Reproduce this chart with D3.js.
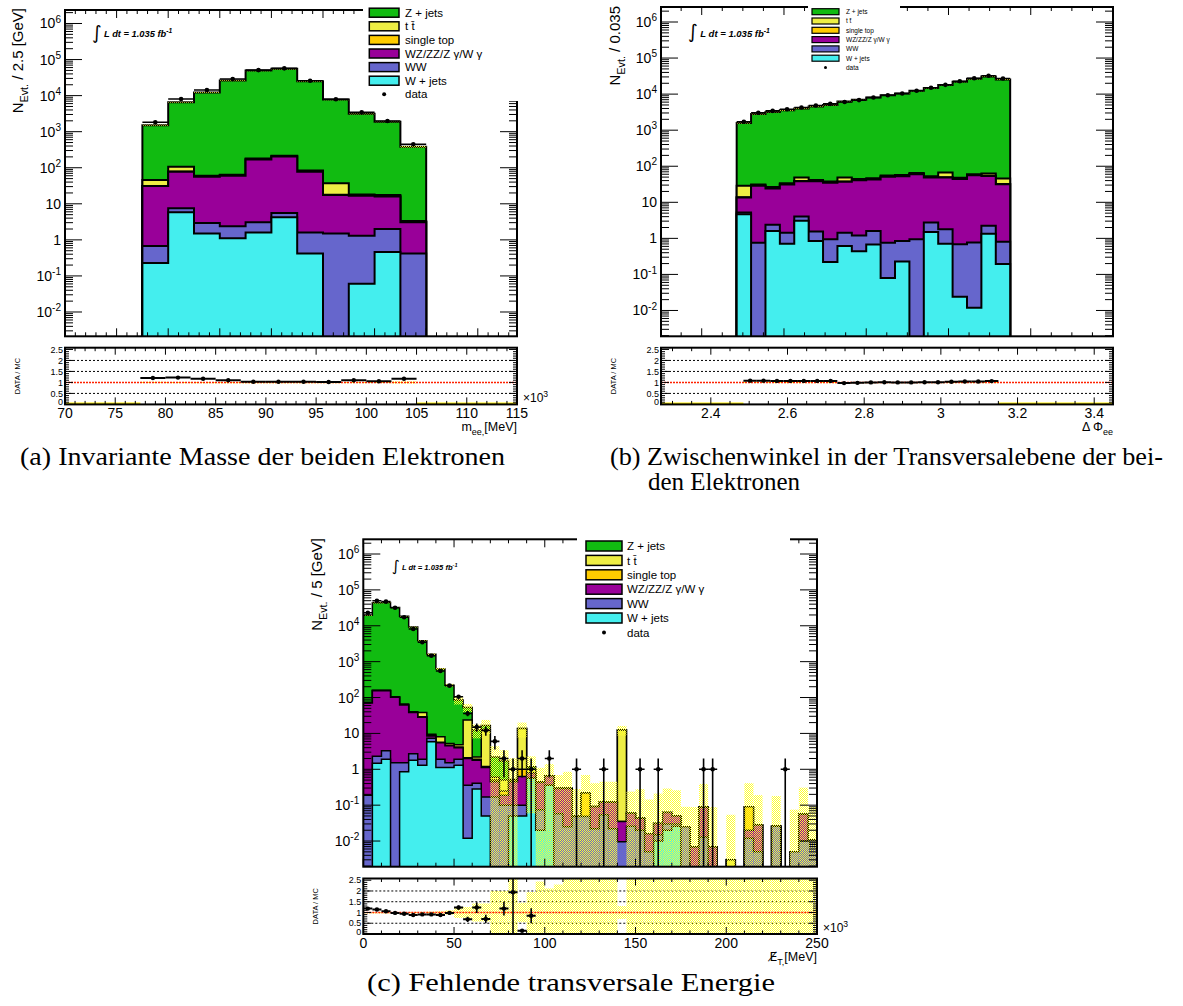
<!DOCTYPE html>
<html><head><meta charset="utf-8">
<script src="https://cdn.jsdelivr.net/npm/d3@7"></script>
<style>body{margin:0;background:#fff}svg{display:block}</style>
</head><body><svg id="c" width="1183" height="1006" font-family="Liberation Sans, Arial, DejaVu Sans, sans-serif"></svg>
<script>
// ================= DATA =================
const procKeys = ["wjets","ww","diboson","singletop","ttbar","zjets"];
const legendOrder = ["zjets","ttbar","singletop","diboson","ww","wjets"];
const legendLabels = {zjets:"Z + jets", ttbar:"t t\u0304", singletop:"single top", diboson:"WZ/ZZ/Z \u03b3/W \u03b3", ww:"WW", wjets:"W + jets"};

// (a) invariant mass m_ee [10^3 MeV], bins of 2.5
const aEdges = [77.5,80,82.5,85,87.5,90,92.5,95,97.5,100,102.5,105];
const aWjets = [0.23,5.84,1.51,1.11,1.61,4.23,0.42,0,0.061,0.46,0];
const aWW = [0.45,1.72,1.42,1.26,1.45,1.37,1.19,1.51,1.23,1.53,0.42];
const aDiboson = [30.3,70.4,53.1,57.6,166.9,198.4,76.4,16.0,15.4,14.0,2.64];
const aSingleTop = [0.3,0.8,0.5,0.6,1.5,1.8,0.7,0.4,0.3,0.3,0.05];
const aTtbar = [14.7,28.2,3.0,3.5,9.0,10.0,5.0,19.1,1.0,1.2,0.2];
const aZjets = [1471,6491,12162,26118,49335,55125,25062,7708,3109,1868,379];
const aData = [1820,8050,14300,28800,51000,57000,25900,7900,3440,1980,447];
const aRatio = [1.20,1.22,1.17,1.10,1.03,1.03,1.03,1.02,1.10,1.05,1.17];
const aMcRelErr = [0.03,0.02,0.015,0.012,0.01,0.01,0.012,0.015,0.02,0.025,0.05];
const aXTicks = [70,75,80,85,90,95,100,105,110,115];

// (b) delta phi_ee, bins of 0.035
const bEdges = [2.485,2.52,2.555,2.59,2.625,2.66,2.695,2.73,2.765,2.8,2.835,2.87,2.905,2.94,2.975,3.01,3.045,3.08,3.115,3.15];
const bWjets = [4.7,0,1.6,0.71,3.06,0.84,0.22,0.61,0.44,0.68,0.079,0.23,0,1.5,0.71,0.024,0.012,1.35,0.195];
const bWW = [0.5,0.76,0.77,0.73,0.99,0.70,0.72,0.83,0.77,0.93,0.68,0.61,0.94,1.25,1.08,0.66,0.75,0.87,0.61];
const bDiboson = [8.4,27.9,21.8,29.8,34.5,37.0,33.8,35.6,39.8,41.3,50.2,52.2,59.1,46.0,46.9,43.9,55.2,51.8,30.9];
const bSingleTop = [0.3,0.5,0.4,0.5,0.6,0.6,0.5,0.6,0.6,0.7,0.8,0.8,0.9,0.7,0.7,0.7,0.8,0.8,0.5];
const bTtbar = [14.8,2.0,1.8,2.2,9.6,2.5,2.3,11.1,2.6,2.7,3.2,3.4,3.8,3.0,17.6,2.8,3.5,8.2,13.5];
const bZjets = [1551,2775,3189,3536,3932,4472,4990,6157,6915,8004,9183,10343,12335,14799,17854,22088,26478,30899,25520];
const bData = [1706,3030,3440,3820,4260,4830,5380,6020,6820,8050,9330,10400,12400,15000,18100,22800,27600,32200,27100];
const bRatio = [1.08,1.08,1.07,1.07,1.07,1.07,1.07,0.97,0.98,1.00,1.01,1.00,1.00,1.01,1.01,1.03,1.04,1.04,1.06];
const bMcRelErr = [0.03,0.025,0.025,0.02,0.02,0.02,0.02,0.02,0.02,0.02,0.02,0.02,0.02,0.02,0.02,0.02,0.02,0.02,0.02];
const bXTicks = [2.4,2.6,2.8,3,3.2,3.4];

// (c) missing E_T [10^3 MeV], bins of 5
const cEdges = [0,5,10,15,20,25,30,35,40,45,50,55,60,65,70,75,80,85,90,95,100,105,110,115,120,125,130,135,140,145,150,155,160,165,170,175,180,185,190,195,200,205,210,215,220,225,230,235,240,245,250];
const cWjets = [0,1.47,1.9,0,0.85,1.8,1.3,5.9,1.13,1.13, 1.3,0.012,0.28,0.05,0,0,0.05,0.05,0.56,0.02, 0.36,0,0,0,0,0,0,0,0,0, 0,0,0.01,0.02,0.026,0,0,0,0,0, 0,0,0,0,0,0,0,0,0,0];
const cWW = [0.19,0.83,1.4,1.53,0.68,0.9,0.6,1.4,0.77,0.4, 0.6,0.348,0.13,0.12,0.17,0.1,0.05,0.05,0,0.054, 0,0.058,0.025,0.048,0.048,0.022,0.054,0.022,0.0095,0.026, 0.02,0.005,0.005,0.01,0.004,0.025,0,0.013,0,0, 0,0,0.012,0.005,0,0.026,0,0.005,0.01,0.0107];
const cDiboson = [69.8,152.7,151.7,99.5,60.5,35.3,26.1,1.2,3.6,2.97, 2.1,1.64,1.39,0.96,0.28,0.09,0.35,0.53,0.24,0.356, 0.29,0.232,0.265,0,0,0.069,0.066,0.098,0.0255,0.034, 0.023,0.011,0.016,0.032,0.02,0,0.0068,0.074,0.0068,0, 0,0,0.008,0.023,0,0,0,0,0.046,0];
const cSingleTop = [0.5,1,1,1,1,0.5,1,0.3,0.2,0.2, 0.2,0.1,0.1,0.07,0.05,0.06,0,0.37,0,0, 0,0,0,0,0.172,0,0,0,0,0, 0,0,0,0,0,0,0,0,0,0, 0,0,0.071,0,0,0,0,0,0,0];
const cTtbar = [1.5,4,4,3,3,1.5,9,0.7,2.4,0.5, 0.6,21.4,0.3,11.7,0.1,0.25,0.05,12.8,0.2,0, 0,0,0,0,0,0,0,0,12.37,0, 0,0,0,0,0,0,0,0,0,0, 0.003,0,0,0,0,0,0,0,0,0];
const cZjets = [19528,43740,44140,32295,18234,9200,3762,1600,617,213, 80,29.5,10.3,3.8,1.6,1.2,0.02,0,0.18,0.02, 0.01,0.01,0.01,0.002,0,0.002,0,0,0,0, 0,0,0,0,0,0,0,0,0,0, 0,0,0,0,0,0,0,0,0,0];
const cData = [23100,50000,47000,31800,17200,8130,3460,1466,550,214, 105,36,15,12,6,2,1,2,1,0, 2,0,0,1,0,0,1,0,0,0, 1,0,1,0,0,0,0,1,1,0, 0,0,0,0,0,0,1,0,0,0];
const cRatio = [1.18,1.14,1.06,0.98,0.94,0.88,0.91,0.91,0.88,0.98, 1.23,0.68,1.23,0.70,null,1.18,1.94,0.15,0.85,null, null,null,null,null,null,null,null,null,null,null, null,null,null,null,null,null,null,null,null,null, null,null,null,null,null,null,null,null,null,null];
const cRatioErr = [0.02,0.01,0.01,0.01,0.01,0.02,0.02,0.03,0.04,0.07, 0.1,0.12,0.25,0.2,0,0.32,2.0,0.05,0.35,0, 0,0,0,0,0,0,0,0,0,0, 0,0,0,0,0,0,0,0,0,0, 0,0,0,0,0,0,0,0,0,0];
const cMcRelErr = [0.01,0.01,0.01,0.01,0.015,0.02,0.03,0.04,0.06,0.1, 0.25,0.25,0.42,0.42,1.0,1.0,2.9,0.45,0.95,1.44, 1.12,1.3,1.83,4.6,2.14,3.4,2.75,2.75,0.3,3.0, 5.5,8,5.8,3.7,4.2,2.6,12,3.5,12,0, 17,0,3.5,5.8,0,5.9,0,14,4.5,7.5];
const cXTicks = [0,50,100,150,200,250];

const ratioTicks = [0,0.5,1,1.5,2,2.5];

// ================= STYLE =================
const procColors = {wjets:"#44eeee", ww:"#6666cc", diboson:"#990099", singletop:"#ffcc00", ttbar:"#eeee44", zjets:"#11bb11"};

const svg = d3.select("#c");
const defs = svg.append("defs");
const pat = defs.append("pattern").attr("id","stip").attr("width",2).attr("height",2).attr("patternUnits","userSpaceOnUse");
pat.append("rect").attr("x",0).attr("y",0).attr("width",1).attr("height",1).attr("fill","#ffff30");
pat.append("rect").attr("x",1).attr("y",1).attr("width",1).attr("height",1).attr("fill","#ffff30");

function rich(sel, segs, fs) {
  let shift = 0;
  segs.forEach(s => {
    const target = s.sub ? fs*0.32 : (s.sup ? -fs*0.42 : 0);
    const ts = sel.append("tspan").attr("dy", target - shift).text(s.t);
    if (s.font) ts.style("font-family", s.font);
    if (s.sub || s.sup) ts.attr("font-size", fs*0.72);
    shift = target;
  });
}

function drawPanel(P) {
  const F = P.frame, R = P.rframe;
  const n = P.edges.length - 1;
  const x = d3.scaleLinear().domain(P.xTop).range([F.x0, F.x1]);
  const y = d3.scaleLog().domain(P.yDom).range([F.y1, F.y0]);
  const xr = d3.scaleLinear().domain(P.xRatio).range([R.x0, R.x1]);
  const yr = d3.scaleLinear().domain([0, 2.58]).range([R.y1, R.y0]);
  const g = svg.append("g");

  const cid = "clip" + P.id, rcid = "rclip" + P.id;
  defs.append("clipPath").attr("id", cid).append("rect").attr("x",F.x0).attr("y",F.y0).attr("width",F.x1-F.x0).attr("height",F.y1-F.y0);
  defs.append("clipPath").attr("id", rcid).append("rect").attr("x",R.x0).attr("y",R.y0).attr("width",R.x1-R.x0).attr("height",R.y1-R.y0);

  const rows = d3.range(n).map(i => { const r = {}; procKeys.forEach((k,j) => r[k] = P.series[j][i]); return r; });
  const stacked = d3.stack().keys(procKeys)(rows);
  const totals = rows.map(r => d3.sum(procKeys, k => r[k]));
  const yb = F.y1 + 4;
  const yv = v => v > 0 ? Math.min(y(v), yb) : yb;
  const area = d3.area().curve(d3.curveStepAfter).x(d => x(d.x)).y0(yb).y1(d => yv(d.v));

  const plot = g.append("g").attr("clip-path", `url(#${cid})`);
  for (let j = procKeys.length - 1; j >= 0; j--) {
    const s = stacked[j];
    const pts = s.map((d,i) => ({x: P.edges[i], v: d[1]}));
    pts.push({x: P.edges[n], v: s[n-1][1]});
    plot.append("path").attr("d", area(pts)).attr("fill", procColors[procKeys[j]])
      .attr("stroke", "#000").attr("stroke-width", P.lw).attr("stroke-linejoin","miter");
  }
  // MC uncertainty band
  totals.forEach((t,i) => {
    if (!(t > 0)) return;
    const rel = P.relErr[i];
    const hi = t*(1+rel), lo = t*(1-rel);
    const y1 = y(hi), y0 = lo > 0 ? Math.min(y(lo), yb) : yb;
    plot.append("rect").attr("x", x(P.edges[i])).attr("width", x(P.edges[i+1]) - x(P.edges[i]))
      .attr("y", y1).attr("height", Math.max(y0 - y1, 0.8)).attr("fill", "url(#stip)");
  });
  // data
  P.data.forEach((d,i) => {
    if (!(d > 0)) return;
    const cx = x((P.edges[i] + P.edges[i+1]) / 2), cy = y(d);
    const e = Math.sqrt(d);
    plot.append("line").attr("x1", cx).attr("x2", cx).attr("y1", yv(d - e)).attr("y2", y(d + e)).attr("stroke","#000").attr("stroke-width",1.6);
    plot.append("line").attr("x1", x(P.edges[i])).attr("x2", x(P.edges[i+1])).attr("y1", cy).attr("y2", cy).attr("stroke","#000").attr("stroke-width",1.6);
    plot.append("circle").attr("cx", cx).attr("cy", cy).attr("r", 2.3).attr("fill","#000");
  });

  // frame + ticks (top)
  const ax = g.append("g").attr("stroke","#000").attr("stroke-width",1);
  const lo10 = Math.floor(Math.log10(P.yDom[0])), hi10 = Math.ceil(Math.log10(P.yDom[1]));
  for (let k = lo10; k <= hi10; k++) for (let m = 1; m <= 9; m++) {
    const v = m * Math.pow(10, k);
    if (v < P.yDom[0] || v > P.yDom[1]) continue;
    const L = m === 1 ? 17 : 8, yy = y(v);
    ax.append("line").attr("x1",F.x0).attr("x2",F.x0+L).attr("y1",yy).attr("y2",yy);
    ax.append("line").attr("x1",F.x1).attr("x2",F.x1-L).attr("y1",yy).attr("y2",yy);
    if (m === 1) {
      const t = g.append("text").attr("x", F.x0 - 4).attr("y", yy + 5).attr("text-anchor","end").attr("font-size",14);
      if (k === 0) t.text("1"); else if (k === 1) t.text("10");
      else rich(t, [{t:"10"},{t:String(k),sup:true}], 14);
    }
  }
  const xTickVals = (dom, step) => { const out = []; for (let v = Math.ceil(dom[0]/step - 1e-6)*step; v <= dom[1] + 1e-9; v += step) out.push(+v.toFixed(6)); return out; };
  const isMaj = v => Math.abs(v/P.xMajor - Math.round(v/P.xMajor)) < 1e-4;
  xTickVals(P.xTop, P.xMinor).forEach(v => {
    const L = isMaj(v) ? 8 : 4, xx = x(v);
    ax.append("line").attr("x1",xx).attr("x2",xx).attr("y1",F.y1).attr("y2",F.y1-L);
    ax.append("line").attr("x1",xx).attr("x2",xx).attr("y1",F.y0).attr("y2",F.y0+L);
  });
  g.append("rect").attr("x",F.x0).attr("y",F.y0).attr("width",F.x1-F.x0).attr("height",F.y1-F.y0).attr("fill","none").attr("stroke","#000").attr("stroke-width",2);

  // ratio pad
  const rp = g.append("g").attr("clip-path", `url(#${rcid})`);
  [0.5,1.5,2].forEach(v => rp.append("line").attr("x1",R.x0).attr("x2",R.x1).attr("y1",yr(v)).attr("y2",yr(v)).attr("stroke","#000").attr("stroke-width",1).attr("stroke-dasharray","2,2"));
  totals.forEach((t,i) => {
    let lo, hi;
    if (t > 0) { lo = Math.max(0, 1 - P.relErr[i]); hi = Math.min(2.58, 1 + P.relErr[i]); }
    else { lo = 0; hi = 2.58; }
    rp.append("rect").attr("x", xr(P.edges[i])).attr("width", xr(P.edges[i+1]) - xr(P.edges[i]))
      .attr("y", yr(hi)).attr("height", Math.max(yr(lo) - yr(hi), 1.2)).attr("fill","url(#stip)");
  });
  if (P.zeroLine) {
    rp.append("line").attr("x1",R.x0).attr("x2",xr(P.edges[0])).attr("y1",yr(0)-1).attr("y2",yr(0)-1).attr("stroke","#ffee00").attr("stroke-width",2);
    rp.append("line").attr("x1",xr(P.edges[n])).attr("x2",R.x1).attr("y1",yr(0)-1).attr("y2",yr(0)-1).attr("stroke","#ffee00").attr("stroke-width",2);
  }
  rp.append("line").attr("x1",R.x0).attr("x2",R.x1).attr("y1",yr(1)).attr("y2",yr(1)).attr("stroke","#ff2200").attr("stroke-width",1.5).attr("stroke-dasharray","2,1");
  P.ratio.forEach((r,i) => {
    if (r == null || r > 2.58) return;
    const cx = xr((P.edges[i] + P.edges[i+1]) / 2), cy = yr(r);
    const e = P.ratioErr ? P.ratioErr[i] : 0;
    if (e > 0) rp.append("line").attr("x1",cx).attr("x2",cx).attr("y1",yr(Math.max(r-e,-0.1))).attr("y2",yr(Math.min(r+e,2.7))).attr("stroke","#000").attr("stroke-width",1.6);
    rp.append("line").attr("x1", xr(P.edges[i])).attr("x2", xr(P.edges[i+1])).attr("y1", cy).attr("y2", cy).attr("stroke","#000").attr("stroke-width",2);
    rp.append("circle").attr("cx", cx).attr("cy", cy).attr("r", 2.2).attr("fill","#000");
  });
  const rax = g.append("g").attr("stroke","#000").attr("stroke-width",1);
  for (let v = 0; v <= 2.5001; v += 0.1) {
    const maj = Math.abs(v*2 - Math.round(v*2)) < 1e-6, L = maj ? 8 : 4, yy = yr(v);
    rax.append("line").attr("x1",R.x0).attr("x2",R.x0+L).attr("y1",yy).attr("y2",yy);
    rax.append("line").attr("x1",R.x1).attr("x2",R.x1-L).attr("y1",yy).attr("y2",yy);
  }
  xTickVals(P.xRatio, P.xMinor).forEach(v => {
    const L = isMaj(v) ? 7 : 3.5, xx = xr(v);
    rax.append("line").attr("x1",xx).attr("x2",xx).attr("y1",R.y1).attr("y2",R.y1-L);
    rax.append("line").attr("x1",xx).attr("x2",xx).attr("y1",R.y0).attr("y2",R.y0+L);
  });
  g.append("rect").attr("x",R.x0).attr("y",R.y0).attr("width",R.x1-R.x0).attr("height",R.y1-R.y0).attr("fill","none").attr("stroke","#000").attr("stroke-width",2);
  ratioTicks.forEach(v => g.append("text").attr("x", R.x0 - 2).attr("y", yr(v) + (v === 0 ? 1 : 3.2)).attr("text-anchor","end").attr("font-size",9).text(String(v)));
  g.append("text").attr("transform", `translate(${R.x0 - 45},${(R.y0+R.y1)/2}) rotate(-90)`).attr("text-anchor","middle").attr("font-size",7.5).text("DATA / MC");
  P.xLabels.forEach(v => g.append("text").attr("x", xr(v)).attr("y", R.y1 + 14).attr("text-anchor","middle").attr("font-size",14).text(String(v)));
  if (P.times) { const t = g.append("text").attr("x", R.x1 + 6).attr("y", R.y1 - 2).attr("font-size",12); rich(t, [{t:"\u00d710"},{t:"3",sup:true}], 12); }
  const xt = g.append("text").attr("x", R.x1).attr("y", R.y1 + 27).attr("text-anchor","end").attr("font-size",12.5);
  rich(xt, P.xTitle, 12.5);
  const yt = g.append("text").attr("transform", `translate(${P.yTitlePos[0]},${P.yTitlePos[1]}) rotate(-90)`).attr("text-anchor","end").attr("font-size",15);
  rich(yt, P.yTitle, 15);

  // legend (white box hides frame + ticks like the original)
  const Lg = P.legend;
  g.append("rect").attr("x",Lg.bg[0]).attr("y",Lg.bg[1]).attr("width",Lg.bg[2]).attr("height",Lg.bg[3]).attr("fill","#fff");
  legendOrder.forEach((k,i) => {
    const cy = Lg.y + i*Lg.dy;
    g.append("rect").attr("x",Lg.x).attr("y",cy-Lg.h/2).attr("width",Lg.w).attr("height",Lg.h).attr("fill",procColors[k]).attr("stroke","#000").attr("stroke-width",Lg.sw);
    g.append("text").attr("x",Lg.tx).attr("y",cy + Lg.fs*0.36).attr("font-size",Lg.fs).text(legendLabels[k]);
  });
  const dcy = Lg.y + 6*Lg.dy;
  g.append("circle").attr("cx", Lg.x + Lg.w/2).attr("cy", dcy).attr("r", Lg.r).attr("fill","#000");
  g.append("text").attr("x",Lg.tx).attr("y",dcy + Lg.fs*0.36).attr("font-size",Lg.fs).text("data");

  // luminosity
  const Lu = P.lumi;
  g.append("text").attr("x", Lu.x).attr("y", Lu.y + Lu.fs*0.55).attr("font-size", Lu.fs*2).style("font-family","DejaVu Sans").text("\u222b");
  const lt = g.append("text").attr("x", Lu.x + Lu.fs*1.3).attr("y", Lu.y + Lu.fs*0.4).attr("font-size", Lu.fs).attr("font-weight","bold").attr("font-style","italic");
  rich(lt, [{t:"L dt = 1.035 fb"},{t:"-1",sup:true}], Lu.fs);
}

drawPanel({
  id:"a", edges:aEdges, series:[aWjets,aWW,aDiboson,aSingleTop,aTtbar,aZjets], data:aData, ratio:aRatio, relErr:aMcRelErr, lw:2,
  frame:{x0:65,x1:517,y0:10,y1:336.3}, rframe:{x0:65,x1:517,y0:347.7,y1:404.4},
  xTop:[70,113.8], xRatio:[70,115], yDom:[Math.pow(10,-2.674), Math.pow(10,6.374)],
  xMajor:5, xMinor:1, xLabels:aXTicks, zeroLine:true, times:true,
  xTitle:[{t:"m"},{t:"ee,",sub:true},{t:"[MeV]"}],
  yTitle:[{t:"N"},{t:"Evt.",sub:true},{t:" / 2.5 [GeV]"}], yTitlePos:[23,8],
  legend:{x:369.3,y:12.7,dy:13.6,w:29.7,h:9,tx:405,fs:11.5,sw:1.5,r:2,bg:[363,0,165,101]},
  lumi:{x:92,y:33.5,fs:9.3}
});
drawPanel({
  id:"b", edges:bEdges, series:[bWjets,bWW,bDiboson,bSingleTop,bTtbar,bZjets], data:bData, ratio:bRatio, relErr:bMcRelErr, lw:2,
  frame:{x0:661,x1:1113,y0:7,y1:336.3}, rframe:{x0:661,x1:1113,y0:347.7,y1:404.4},
  xTop:[2.301,3.400], xRatio:[2.27,3.449], yDom:[Math.pow(10,-2.716), Math.pow(10,6.416)],
  xMajor:0.2, xMinor:0.05, xLabels:bXTicks, zeroLine:true, times:false,
  xTitle:[{t:"\u0394 \u03a6"},{t:"ee",sub:true}],
  yTitle:[{t:"N"},{t:"Evt.",sub:true},{t:" / 0.035"}], yTitlePos:[620,6],
  legend:{x:812,y:11.7,dy:9.3,w:27,h:6,tx:846,fs:6.5,sw:1.2,r:1.5,bg:[808,0,92,73]},
  lumi:{x:688,y:33,fs:9.5}
});
drawPanel({
  id:"c", edges:cEdges, series:[cWjets,cWW,cDiboson,cSingleTop,cTtbar,cZjets], data:cData, ratio:cRatio, ratioErr:cRatioErr, relErr:cMcRelErr, lw:1.5,
  frame:{x0:363.3,x1:817,y0:539.3,y1:866.7}, rframe:{x0:363.3,x1:817,y0:878.5,y1:934},
  xTop:[0,250], xRatio:[0,250], yDom:[Math.pow(10,-2.715), Math.pow(10,6.41)],
  xMajor:50, xMinor:10, xLabels:cXTicks, zeroLine:false, times:true,
  xTitle:[{t:"E\u0338",font:"DejaVu Sans"},{t:"T,",sub:true},{t:"[MeV]"}],
  yTitle:[{t:"N"},{t:"Evt.",sub:true},{t:" / 5 [GeV]"}], yTitlePos:[322,538],
  legend:{x:586,y:546,dy:14.4,w:36,h:10,tx:627,fs:11.5,sw:1.5,r:2,bg:[577,533,213,107]},
  lumi:{x:392,y:566.7,fs:7.6}
});

// captions
function caption(x, yb, txt, len) {
  svg.append("text").attr("x", x).attr("y", yb).style("font-family", "'Liberation Serif', 'DejaVu Serif', serif").attr("font-size", 25)
    .attr("textLength", len).attr("lengthAdjust","spacingAndGlyphs").text(txt);
}
caption(20, 465, "(a) Invariante Masse der beiden Elektronen", 485);
caption(610, 465, "(b) Zwischenwinkel in der Transversalebene der bei-", 553);
caption(648, 490, "den Elektronen", 152);
caption(367, 991, "(c) Fehlende transversale Energie", 408);
</script></body></html>
